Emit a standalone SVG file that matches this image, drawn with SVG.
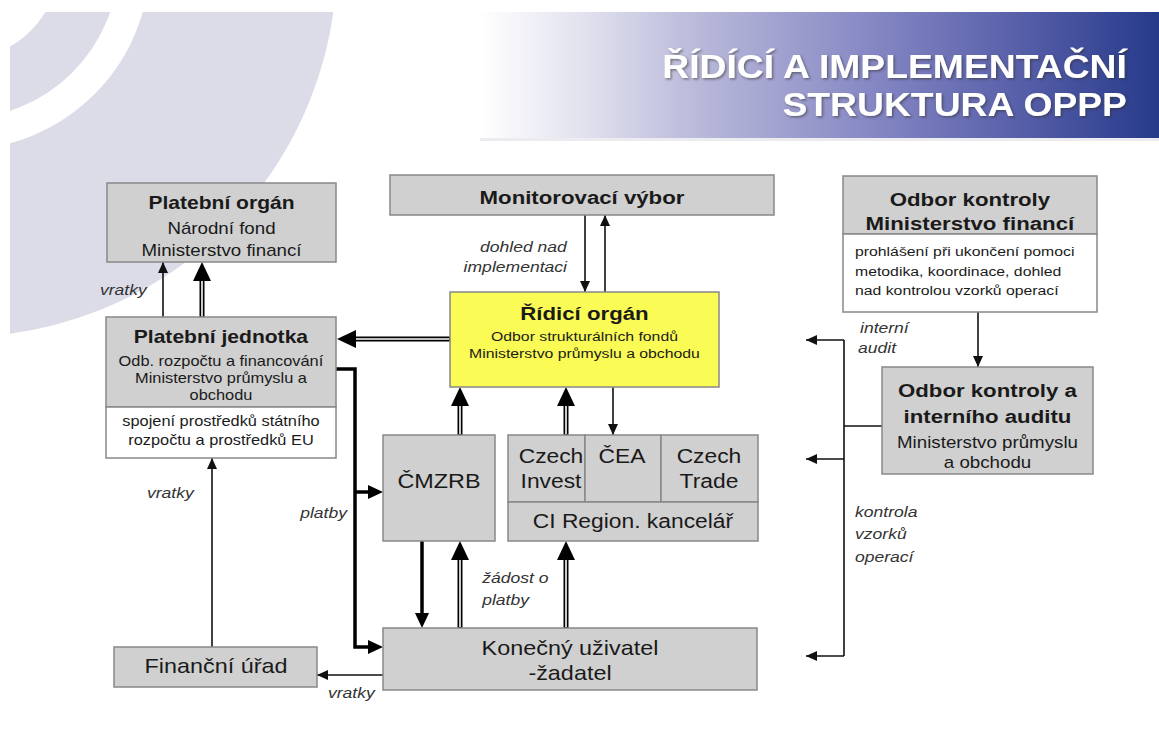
<svg xmlns="http://www.w3.org/2000/svg" width="1159" height="746" viewBox="0 0 1159 746">
<defs>
<style>
text{font-family:"Liberation Sans",Arial,sans-serif;fill:#1a1a1a}
.c,.l,.r{transform-box:fill-box;transform:scaleX(1.17)}
.c{text-anchor:middle;transform-origin:50% 50%}
.l{text-anchor:start;transform-origin:0% 50%}
.r{text-anchor:end;transform-origin:100% 50%}
.b{font-weight:bold}
.lbl{font-style:italic;fill:#333;font-size:15px}
.title{font-weight:bold;font-size:33px;fill:#fff;text-anchor:end;transform-box:fill-box;transform-origin:100% 50%;transform:scaleX(1.13)}
.box{fill:#d0d0d0;stroke:#888;stroke-width:1.5}
.wbox{fill:#fff;stroke:#888;stroke-width:1.5}
.ybox{fill:#fbfb55;stroke:#888;stroke-width:1.5}
.ln{fill:none;stroke:#111;stroke-width:1.6}
.tk{fill:none;stroke:#000;stroke-width:3.5}
.db{fill:none;stroke:#000;stroke-width:5}
.dw{fill:none;stroke:#fff;stroke-width:1.6}
</style>
<linearGradient id="ban" x1="0" y1="0" x2="1" y2="0">
<stop offset="0" stop-color="#ffffff"/>
<stop offset="0.15" stop-color="#e2e2ef"/>
<stop offset="0.33" stop-color="#b7b7d9"/>
<stop offset="0.58" stop-color="#8587c4"/>
<stop offset="0.8" stop-color="#565ea8"/>
<stop offset="1" stop-color="#263a8a"/>
</linearGradient>
<clipPath id="dc"><rect x="10" y="12" width="460" height="420"/></clipPath>
<filter id="sh" x="-5%" y="-20%" width="110%" height="140%"><feDropShadow dx="1.5" dy="1.5" stdDeviation="1" flood-color="#333" flood-opacity="0.55"/></filter>
<marker id="a" markerUnits="userSpaceOnUse" markerWidth="11" markerHeight="10" refX="11" refY="5" orient="auto"><path d="M0,0 L11,5 L0,10 z" fill="#111"/></marker>
<marker id="at" markerUnits="userSpaceOnUse" markerWidth="15" markerHeight="14" refX="0" refY="7" orient="auto"><path d="M0,0 L15,7 L0,14 z" fill="#000"/></marker>
<marker id="ad" markerUnits="userSpaceOnUse" markerWidth="19" markerHeight="18" refX="0" refY="9" orient="auto"><path d="M0,0 L19,9 L0,18 z" fill="#000"/></marker>
</defs>
<rect width="1159" height="746" fill="#fff"/>
<g id="decor" clip-path="url(#dc)" fill="none" stroke="#dcdce9">
<circle cx="-40" cy="-40" r="129.5" stroke-width="59"/>
<circle cx="-40" cy="-40" r="283.5" stroke-width="187"/>
</g>
<g id="banner">
<rect x="480" y="12" width="679" height="126" fill="url(#ban)"/>
<rect x="480" y="138" width="679" height="3" fill="#ececf0"/>
<g filter="url(#sh)">
<text class="title" x="1127" y="78">ŘÍDÍCÍ A IMPLEMENTAČNÍ</text>
<text class="title" x="1127" y="116">STRUKTURA OPPP</text>
</g>
</g>
<g id="connectors">
<path class="ln" d="M163,317 V262" marker-end="url(#a)"/>
<path class="db" d="M202,317.5 V281" marker-end="url(#ad)"/><path class="dw" d="M202,316.5 V281"/>
<path class="db" d="M450,339 H356" marker-end="url(#ad)"/><path class="dw" d="M449,339 H356"/>
<path class="tk" d="M336,369 H355 V647 H368" marker-end="url(#at)"/>
<path class="tk" d="M355,492 H368" marker-end="url(#at)"/>
<path class="tk" d="M422,541 V613" marker-end="url(#at)"/>
<path class="db" d="M460,628 V560" marker-end="url(#ad)"/><path class="dw" d="M460,627 V560"/>
<path class="db" d="M566,628 V560" marker-end="url(#ad)"/><path class="dw" d="M566,627 V560"/>
<path class="db" d="M460,435 V406" marker-end="url(#ad)"/><path class="dw" d="M460,434 V406"/>
<path class="db" d="M566,435 V406" marker-end="url(#ad)"/><path class="dw" d="M566,434 V406"/>
<path class="ln" d="M613,387 V435" marker-end="url(#a)"/>
<path class="ln" d="M585,215 V292" marker-end="url(#a)"/>
<path class="ln" d="M605,292 V215" marker-end="url(#a)"/>
<path class="ln" d="M212,647 V458" marker-end="url(#a)"/>
<path class="ln" d="M383,675 H317" marker-end="url(#a)"/>
<path class="ln" d="M978,312 V367" marker-end="url(#a)"/>
<path class="ln" d="M882,426 H844 M844,340 V656"/>
<path class="ln" d="M844,340 H806" marker-end="url(#a)"/>
<path class="ln" d="M844,459 H806" marker-end="url(#a)"/>
<path class="ln" d="M844,656 H806" marker-end="url(#a)"/>
<text class="lbl l" x="100" y="295">vratky</text>
<text class="lbl r" x="567" y="252" font-size="13">dohled nad</text>
<text class="lbl r" x="567" y="272" font-size="13">implementaci</text>
<text class="lbl l" x="300" y="518">platby</text>
<text class="lbl l" x="147" y="498">vratky</text>
<text class="lbl l" x="482" y="583">žádost o</text>
<text class="lbl l" x="482" y="605">platby</text>
<text class="lbl l" x="328" y="698">vratky</text>
<text class="lbl l" x="860" y="333">interní</text>
<text class="lbl l" x="858" y="353">audit</text>
<text class="lbl l" x="855" y="517">kontrola</text>
<text class="lbl l" x="855" y="539">vzorků</text>
<text class="lbl l" x="855" y="562">operací</text>
</g>
<g id="platebni-organ">
<rect class="box" x="107" y="183" width="229" height="79"/>
<text class="c b" x="221.5" y="209" font-size="18">Platební orgán</text>
<text class="c" x="221.5" y="234" font-size="16">Národní fond</text>
<text class="c" x="221.5" y="256" font-size="16">Ministerstvo financí</text>
</g>
<g id="platebni-jednotka">
<rect class="box" x="106" y="317" width="230" height="90"/>
<rect class="wbox" x="106" y="407" width="230" height="51"/>
<text class="c b" x="221" y="343" font-size="18">Platební jednotka</text>
<text class="c" x="221" y="366" font-size="14">Odb. rozpočtu a financování</text>
<text class="c" x="221" y="383" font-size="14">Ministerstvo průmyslu a</text>
<text class="c" x="221" y="400" font-size="14">obchodu</text>
<text class="c" x="221" y="426" font-size="14">spojení prostředků státního</text>
<text class="c" x="221" y="445" font-size="14">rozpočtu a prostředků EU</text>
</g>
<g id="monitorovaci-vybor">
<rect class="box" x="390" y="175" width="384" height="40"/>
<text class="c b" x="582" y="204" font-size="19">Monitorovací výbor</text>
</g>
<g id="ridici-organ">
<rect class="ybox" x="450" y="292" width="269" height="95"/>
<text class="c b" x="584.5" y="320" font-size="19">Řídicí orgán</text>
<text class="c" x="584.5" y="341" font-size="13.5">Odbor strukturálních fondů</text>
<text class="c" x="584.5" y="358" font-size="13.5">Ministerstvo průmyslu a obchodu</text>
</g>
<g id="odbor-kontroly-mf">
<rect class="box" x="843" y="176" width="254" height="58"/>
<rect class="wbox" x="843" y="234" width="254" height="78"/>
<text class="c b" x="970" y="206" font-size="19">Odbor kontroly</text>
<text class="c b" x="970" y="230" font-size="19">Ministerstvo financí</text>
<text class="l" x="855" y="256" font-size="13.5">prohlášení při ukončení pomoci</text>
<text class="l" x="855" y="276" font-size="13.5">metodika, koordinace, dohled</text>
<text class="l" x="855" y="295" font-size="13.5">nad kontrolou vzorků operací</text>
</g>
<g id="odbor-kontroly-ia">
<rect class="box" x="882" y="367" width="211" height="107"/>
<text class="c b" x="987.5" y="397" font-size="19">Odbor kontroly a</text>
<text class="c b" x="987.5" y="423" font-size="19">interního auditu</text>
<text class="c" x="987.5" y="448" font-size="16">Ministerstvo průmyslu</text>
<text class="c" x="987.5" y="468" font-size="16">a obchodu</text>
</g>
<g id="cmzrb">
<rect class="box" x="383" y="435" width="112" height="106"/>
<text class="c" x="439" y="488" font-size="20">ČMZRB</text>
</g>
<g id="czech-invest">
<rect class="box" x="508" y="435" width="77" height="67"/>
<text class="c" x="551" y="463" font-size="19.5">Czech</text>
<text class="c" x="551" y="488" font-size="19.5">Invest</text>
</g>
<g id="cea">
<rect class="box" x="585" y="435" width="76" height="67"/>
<text class="c" x="622" y="463" font-size="19.5">ČEA</text>
</g>
<g id="czech-trade">
<rect class="box" x="661" y="435" width="97" height="67"/>
<text class="c" x="709" y="463" font-size="19.5">Czech</text>
<text class="c" x="709" y="488" font-size="19.5">Trade</text>
</g>
<g id="ci-region">
<rect class="box" x="508" y="502" width="250" height="39"/>
<text class="c" x="633" y="528" font-size="19.5">CI Region. kancelář</text>
</g>
<g id="konecny-uzivatel">
<rect class="box" x="383" y="628" width="374" height="62"/>
<text class="c" x="570" y="655" font-size="20">Konečný uživatel</text>
<text class="c" x="570" y="680" font-size="20">-žadatel</text>
</g>
<g id="financni-urad">
<rect class="box" x="114" y="647" width="203" height="40"/>
<text class="c" x="216" y="673" font-size="20">Finanční úřad</text>
</g>
</svg>
